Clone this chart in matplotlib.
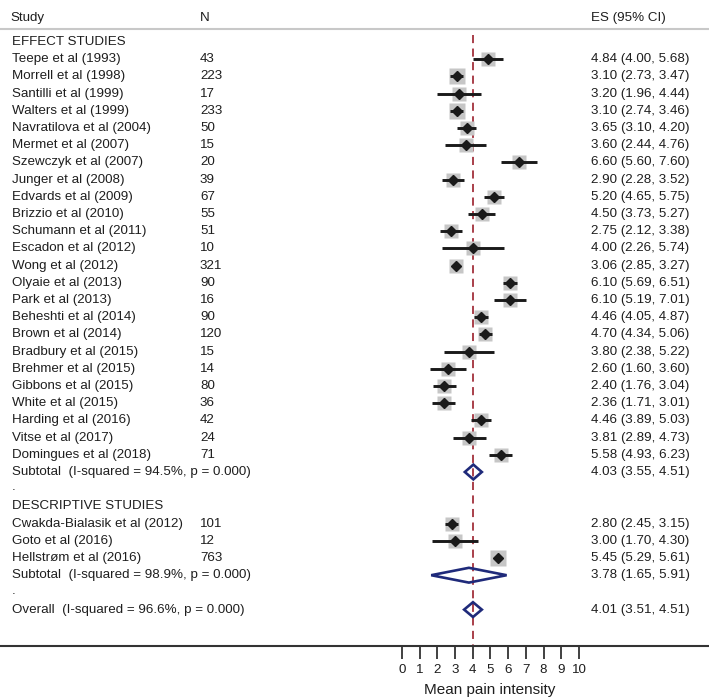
import numpy as np
import matplotlib
matplotlib.use("Agg")
import matplotlib.pyplot as plt
import matplotlib.transforms as mtransforms

plt.rcParams['font.family'] = ['Liberation Sans', 'DejaVu Sans']

# effect studies
effect_names = ["Teepe et al (1993)", "Morrell et al (1998)", "Santilli et al (1999)",
                "Walters et al (1999)", "Navratilova et al (2004)", "Mermet et al (2007)",
                "Szewczyk et al (2007)", "Junger et al (2008)", "Edvards et al (2009)",
                "Brizzio et al (2010)", "Schumann et al (2011)", "Escadon et al (2012)",
                "Wong et al (2012)", "Olyaie et al (2013)", "Park et al (2013)",
                "Beheshti et al (2014)", "Brown et al (2014)", "Bradbury et al (2015)",
                "Brehmer et al (2015)", "Gibbons et al (2015)", "White et al (2015)",
                "Harding et al (2016)", "Vitse et al (2017)", "Domingues et al (2018)"]
effect_n = [43, 223, 17, 233, 50, 15, 20, 39, 67, 55, 51, 10, 321, 90, 16, 90, 120, 15,
            14, 80, 36, 42, 24, 71]
effect_es = [4.84, 3.10, 3.20, 3.10, 3.65, 3.60, 6.60, 2.90, 5.20, 4.50, 2.75, 4.00, 3.06,
             6.10, 6.10, 4.46, 4.70, 3.80, 2.60, 2.40, 2.36, 4.46, 3.81, 5.58]
effect_lo = [4.00, 2.73, 1.96, 2.74, 3.10, 2.44, 5.60, 2.28, 4.65, 3.73, 2.12, 2.26, 2.85,
             5.69, 5.19, 4.05, 4.34, 2.38, 1.60, 1.76, 1.71, 3.89, 2.89, 4.93]
effect_hi = [5.68, 3.47, 4.44, 3.46, 4.20, 4.76, 7.60, 3.52, 5.75, 5.27, 3.38, 5.74, 3.27,
             6.51, 7.01, 4.87, 5.06, 5.22, 3.60, 3.04, 3.01, 5.03, 4.73, 6.23]
effect_box = [11, 12, 11, 12, 11, 11, 11, 11, 11, 11, 11, 10, 10, 11, 11, 11, 11, 11,
              11, 11, 11, 11, 11, 11]
effect_sub = (4.03, 3.55, 4.51)
effect_sub_label = "Subtotal  (I-squared = 94.5%, p = 0.000)"

# descriptive studies
desc_names = ["Cwakda-Bialasik et al (2012)", "Goto et al (2016)", "Hellstr\u00f8m et al (2016)"]
desc_n = [101, 12, 763]
desc_es = [2.80, 3.00, 5.45]
desc_lo = [2.45, 1.70, 5.29]
desc_hi = [3.15, 4.30, 5.61]
desc_box = [11, 11, 12]
desc_sub = (3.78, 1.65, 5.91)
desc_sub_label = "Subtotal  (I-squared = 98.9%, p = 0.000)"

overall = (4.01, 3.51, 4.51)
overall_label = "Overall  (I-squared = 96.6%, p = 0.000)"

W, H = 709, 700
fig = plt.figure(figsize=(W / 100, H / 100), dpi=100)
ax = fig.add_axes([0, 54 / H, 1, 646 / H])

row_h = 17.2
top_px = 42
px_per_unit = 17.7
x0_px = 402
ax.set_xlim(-x0_px / px_per_unit, (W - x0_px) / px_per_unit)
ax.set_ylim((646 - top_px) / row_h, -top_px / row_h)

fs = 9.6
tc = '#1e1e1e'
txt = mtransforms.blended_transform_factory(ax.transAxes, ax.transData)
col_study, col_n, col_es = 12 / W, 200 / W, 591 / W


def fmt_ci(e, l, h):
    return f"{e:.2f} ({l:.2f}, {h:.2f})"


def study_row(y, name, n, e, l, h, box):
    ax.text(col_study, y, name, transform=txt, va='center', fontsize=fs, color=tc)
    ax.text(col_n, y, str(n), transform=txt, va='center', fontsize=fs, color=tc)
    ax.text(col_es, y, fmt_ci(e, l, h), transform=txt, va='center', fontsize=fs, color=tc)
    # weight box, CI line, point estimate
    ax.plot(e, y, marker='s', ms=box * 0.95, color='#c6c6c6', mec='none', zorder=2)
    ax.plot([l, h], [y, y], color='#1a1a1a', lw=2.1, zorder=3, solid_capstyle='butt')
    ax.plot(e, y, marker='D', ms=5.4, color='#1a1a1a', zorder=4)


def pooled_row(y, label, vals):
    e, l, h = vals
    ax.text(col_study, y, label, transform=txt, va='center', fontsize=fs, color=tc)
    ax.text(col_es, y, fmt_ci(e, l, h), transform=txt, va='center', fontsize=fs, color=tc)
    d = 0.43
    ax.fill([l, e, h, e, l], [y, y - d, y, y + d, y], fill=False, edgecolor='#1f2a7a',
            lw=1.9, zorder=4)


# header
hy = (18 - top_px) / row_h
ax.text(10 / W, hy, "Study", transform=txt, va='center', fontsize=fs, color=tc)
ax.text(col_n, hy, "N", transform=txt, va='center', fontsize=fs, color=tc)
ax.text(col_es, hy, "ES (95% CI)", transform=txt, va='center', fontsize=fs, color=tc)
ax.axhline((29 - top_px) / row_h, color='#c8c8c8', lw=1.5)

y = 0
ax.text(col_study, y, "EFFECT STUDIES", transform=txt, va='center', fontsize=fs, color=tc)
for i in range(len(effect_names)):
    y += 1
    study_row(y, effect_names[i], effect_n[i], effect_es[i], effect_lo[i], effect_hi[i],
              effect_box[i])
y += 1
pooled_row(y, effect_sub_label, effect_sub)
y += 1
ax.text(col_study, y - 0.1, ".", transform=txt, va='center', fontsize=fs, color=tc)
y += 1
ax.text(col_study, y, "DESCRIPTIVE STUDIES", transform=txt, va='center', fontsize=fs,
        color=tc)
for i in range(len(desc_names)):
    y += 1
    study_row(y, desc_names[i], desc_n[i], desc_es[i], desc_lo[i], desc_hi[i], desc_box[i])
y += 1
pooled_row(y, desc_sub_label, desc_sub)
y += 1
ax.text(col_study, y - 0.1, ".", transform=txt, va='center', fontsize=fs, color=tc)
y += 1
pooled_row(y, overall_label, overall)

# reference line at overall estimate
ax.plot([overall[0], overall[0]], [(35 - top_px) / row_h, (646 - top_px) / row_h],
        color='#a3303c', lw=1.3, ls=(0, (4.5, 3)), zorder=1)

# bottom axis
for s in ['top', 'left', 'right']:
    ax.spines[s].set_visible(False)
ax.spines['bottom'].set_color('#333333')
ax.spines['bottom'].set_linewidth(1.5)
ax.set_yticks([])
ax.set_xticks(range(0, 11))
ax.tick_params(axis='x', direction='out', length=9, width=1.3, color='#333333',
               labelsize=fs, labelcolor=tc, pad=4)
ax.set_xlabel("Mean pain intensity", fontsize=11, color=tc)
ax.xaxis.set_label_coords(490 / W, -(683 - 646) / 646)

fig.savefig("out.png", dpi=100)
